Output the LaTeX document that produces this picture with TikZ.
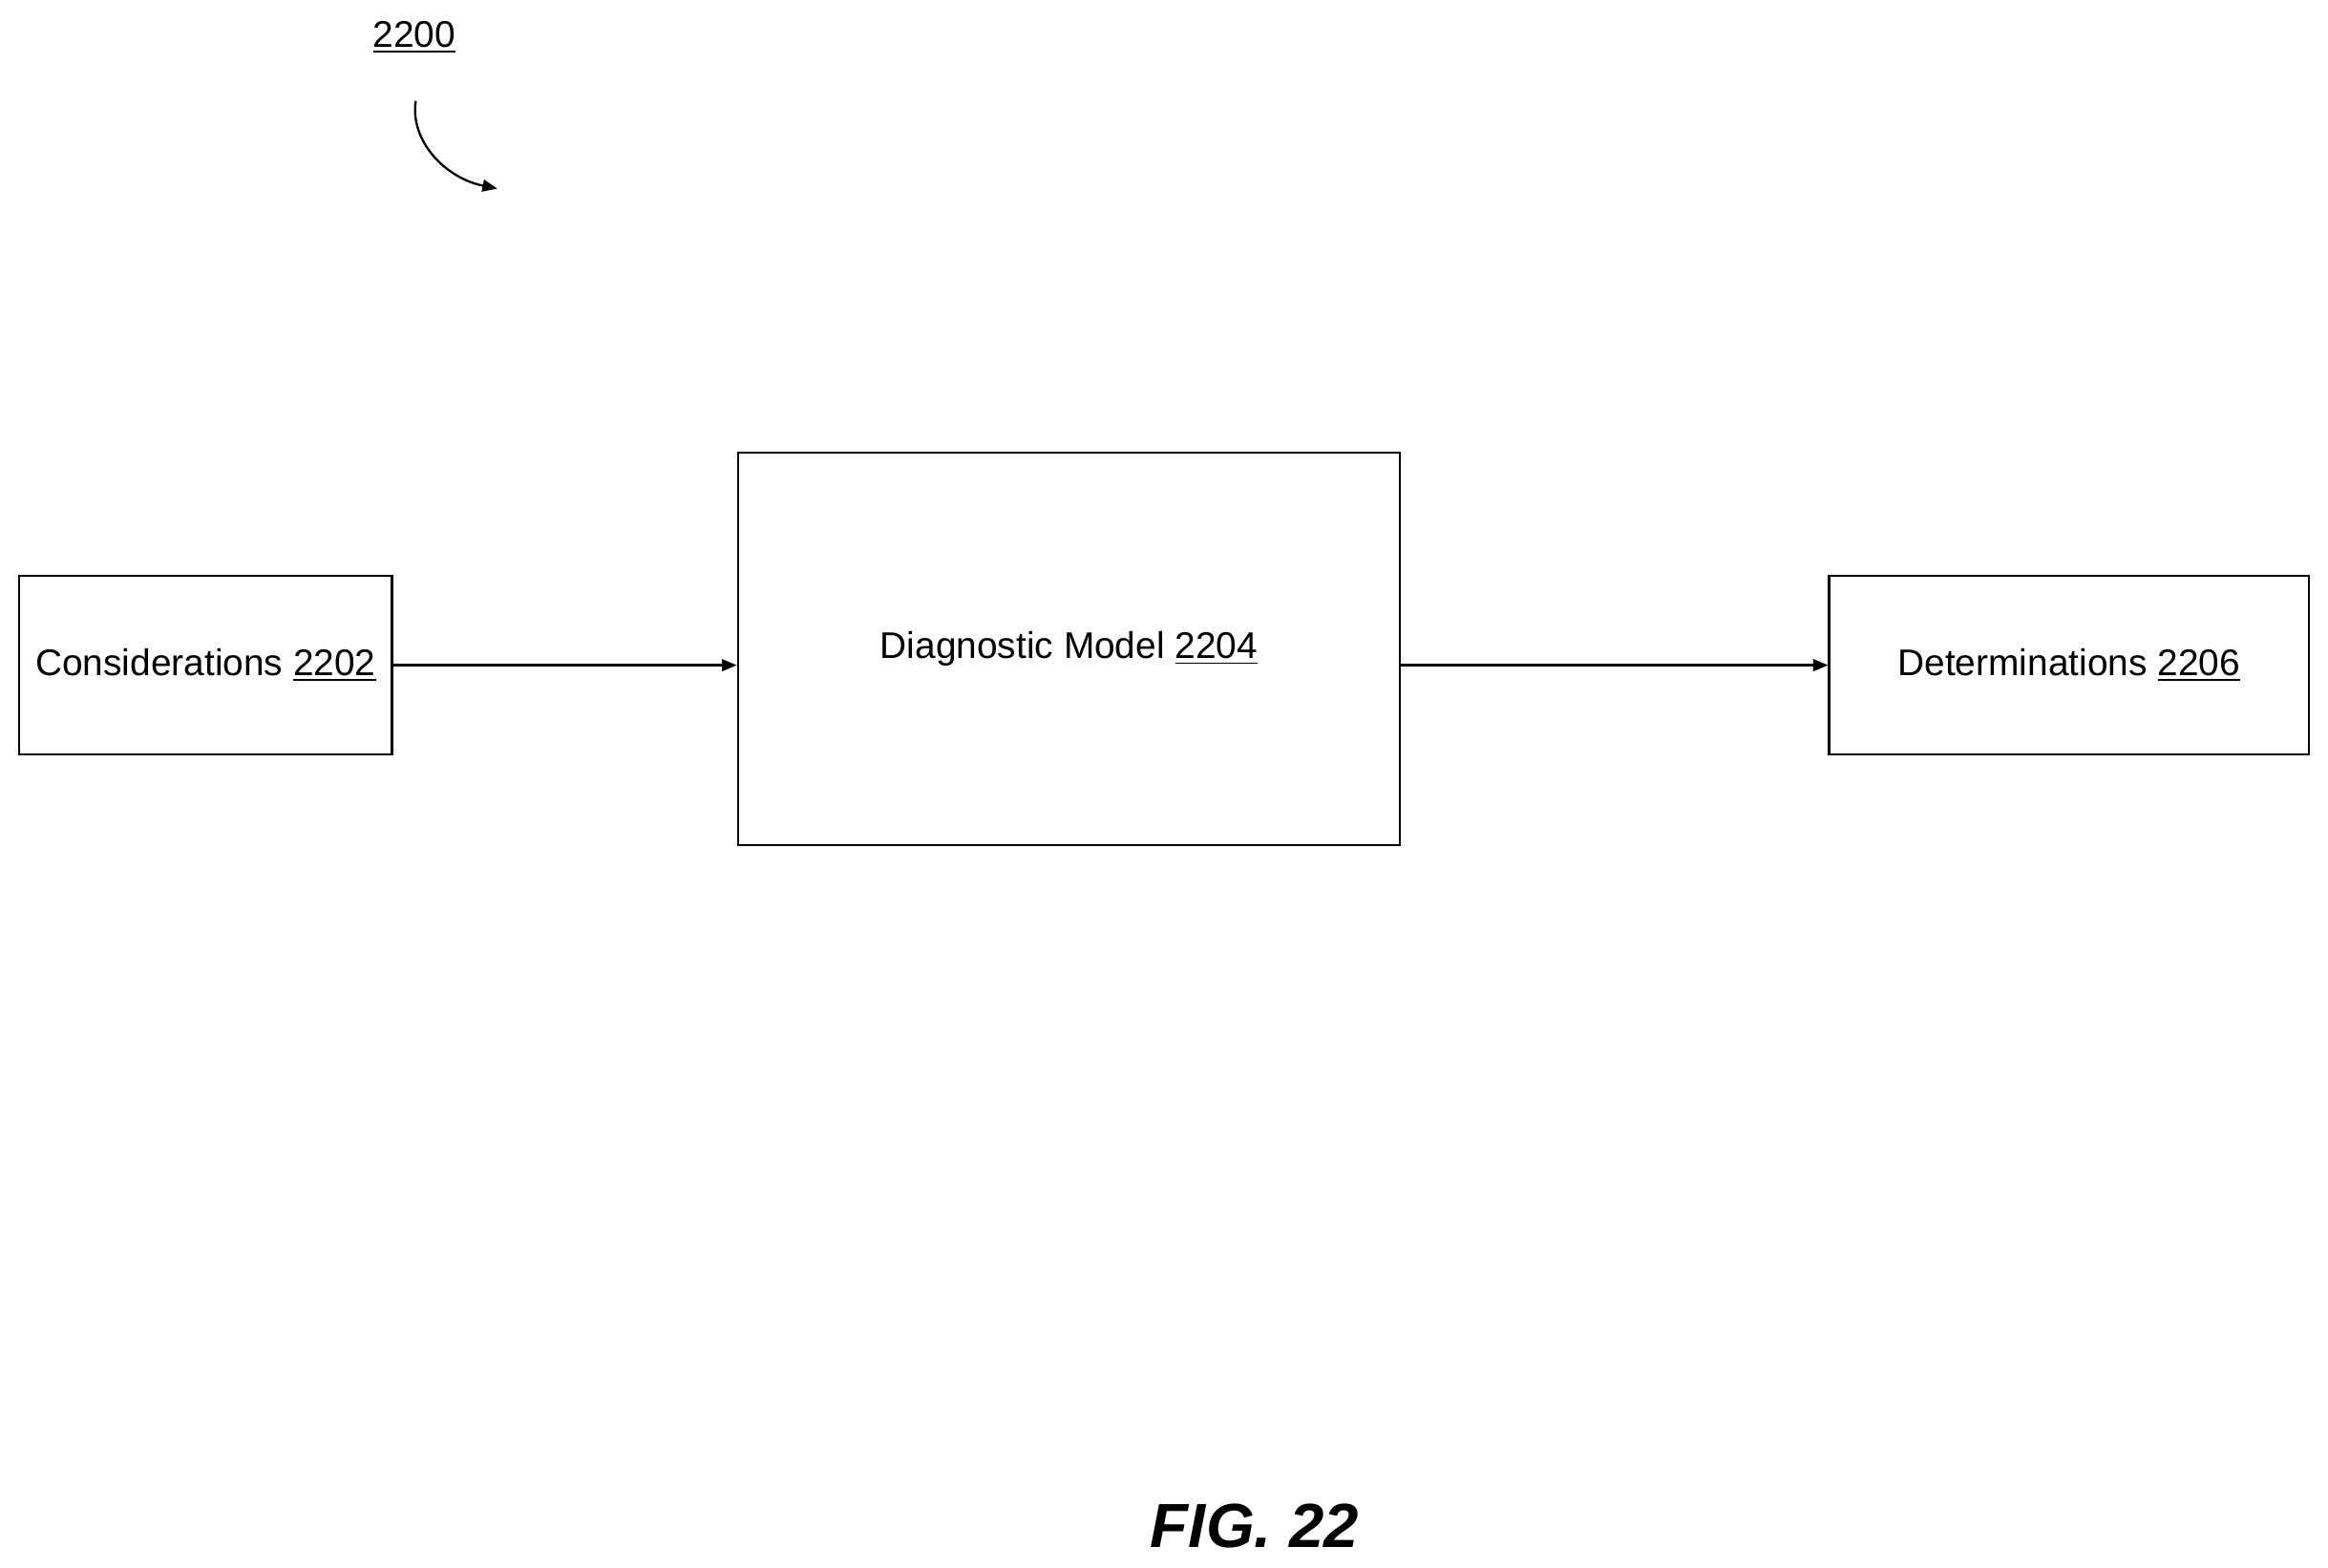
\documentclass[tikz,border=0pt]{standalone}
\usepackage{fontspec}
\setmainfont{Liberation Sans}
\usetikzlibrary{arrows.meta}
\tikzset{every picture/.style={line width=0.75pt}}
\tikzset{blk/.style={draw, inner sep=0pt, font=\fontsize{12.5}{15}\selectfont},
  lbl/.style={inner sep=0.75pt, font=\fontsize{12.5}{15}\selectfont},
  arr/.style={-{Triangle[length=5pt,width=4pt]}}}
\begin{document}
\begin{tikzpicture}[x=0.5pt,y=0.5pt,yscale=-1,xscale=1]
\useasboundingbox (0,0) rectangle (1568,1056);

% Text Node
\node (ref) [lbl] at (279,25) {\underline{2200}};
\coordinate (refs) at (280,68);
\coordinate (refe) at (335,127);
\draw [arr] (refs) .. controls (276,95) and (300,120) .. (refe);

% Shape: Rectangle
\node (cons) [blk, minimum width=125.5pt, minimum height=60pt] at (138.5,448) {Considerations \underline{2202}};
% Shape: Rectangle
\node (diag) [blk, minimum width=223pt, minimum height=132pt] at (720,437) {};
\node (diagt) [lbl] at (720,437) {Diagnostic Model \underline{2204}};
% Shape: Rectangle
\node (det) [blk, minimum width=161.5pt, minimum height=60pt] at (1393.5,448) {Determinations \underline{2206}};

% Straight Lines
\draw [arr] (cons.east) -- (cons.east -| diag.west);
\draw [arr] (diag.east |- det.west) -- (det.west);

% Text Node
\node (fig) [lbl, font=\fontsize{21}{25}\selectfont\bfseries\itshape] at (845,1028) {FIG. 22};
\end{tikzpicture}
\end{document}
